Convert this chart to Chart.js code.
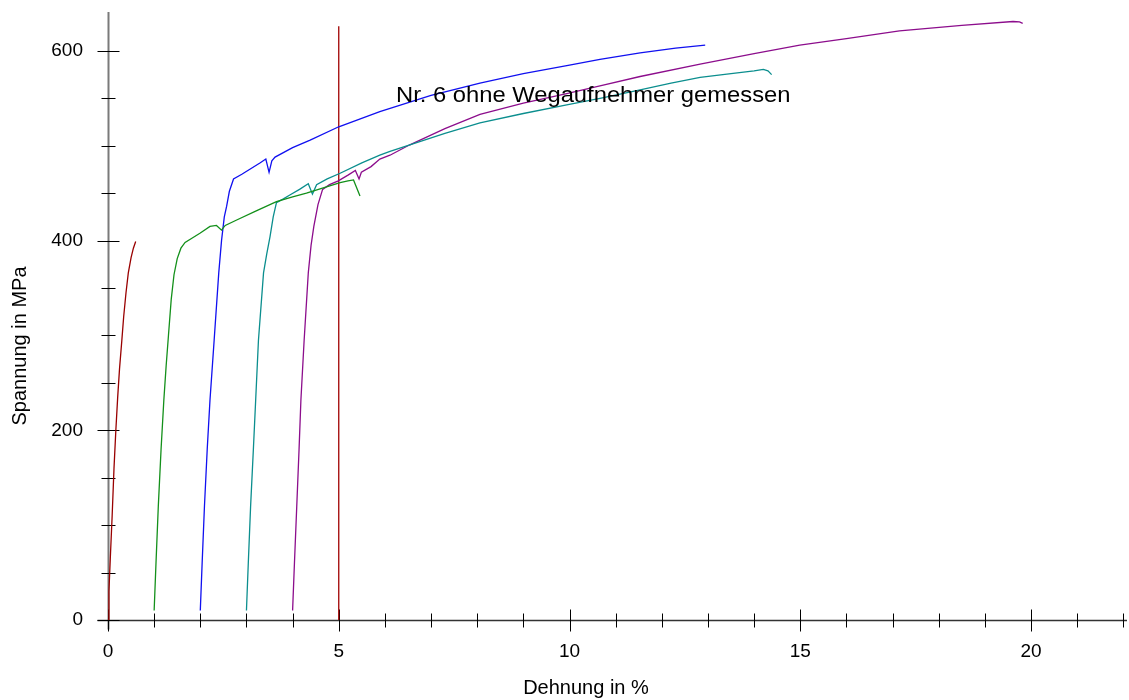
<!DOCTYPE html>
<html>
<head>
<meta charset="utf-8">
<script src="https://cdn.jsdelivr.net/npm/chart.js@4/dist/chart.umd.min.js"></script>
<style>
  body { margin: 0; background: #fff; }
</style>
</head>
<body>
<canvas id="stressChart" width="1129" height="700"></canvas>
<script>
// Axis ranges and tick labels
const xMin = 0, xMax = 22.08;
const yMin = 0, yMax = 641;
const xTickLabels = [0, 5, 10, 15, 20];
const yTickLabels = [0, 200, 400, 600];
const xMinorStep = 1;
const yMinorStep = 50;

// Specimen curves: Dehnung in %, Spannung in MPa
const darkRedStrain = [0, 0.02, 0.05, 0.09, 0.13, 0.17, 0.21, 0.25, 0.3, 0.34, 0.39, 0.44, 0.5, 0.55, 0.6];
const darkRedStress = [0, 30, 65, 110, 160, 200, 235, 265, 295, 320, 345, 366, 382, 392, 399];

const greenStrain = [1.0, 1.04, 1.09, 1.15, 1.21, 1.26, 1.31, 1.37, 1.43, 1.5, 1.58, 1.67, 1.8, 2.0, 2.21, 2.35, 2.46, 2.54, 2.8, 3.2, 3.65, 4.0, 4.3, 4.7, 5.03, 5.2, 5.32, 5.46];
const greenStress = [10, 60, 120, 180, 232, 268, 300, 338, 364, 381, 392, 398, 402, 408, 415, 416, 411, 416, 422, 431, 441, 446, 450, 456, 461, 463, 464, 447];

const blueStrain = [2.0, 2.04, 2.09, 2.15, 2.21, 2.3, 2.4, 2.46, 2.52, 2.57, 2.63, 2.72, 2.9, 3.1, 3.3, 3.42, 3.49, 3.55, 3.62, 4.0, 4.38, 5.0, 5.89, 7.0, 8.06, 9.0, 10.0, 10.66, 11.53, 12.3, 12.94];
const blueStress = [10, 60, 120, 180, 232, 295, 366, 400, 425, 436, 452, 465, 470, 476, 482, 486, 472, 484, 488, 498, 506, 520, 536, 553, 566, 576, 585, 591, 598, 603, 606];

const tealStrain = [3.0, 3.04, 3.09, 3.15, 3.2, 3.26, 3.37, 3.44, 3.51, 3.58, 3.65, 3.8, 3.94, 4.15, 4.34, 4.43, 4.52, 4.75, 5.03, 5.5, 5.89, 6.11, 6.54, 7.3, 8.06, 9.0, 9.94, 10.66, 11.53, 12.2, 12.83, 13.5, 14.0, 14.2, 14.3, 14.38];
const tealStress = [10, 60, 120, 180, 232, 295, 366, 386, 404, 425, 440, 444, 448, 454, 460, 449, 459, 465, 471, 482, 490, 494, 501, 513, 524, 534, 543, 550, 559, 566, 572, 576, 579, 580.5, 579, 575];

const purpleStrain = [4.0, 4.04, 4.09, 4.14, 4.18, 4.25, 4.34, 4.4, 4.46, 4.55, 4.65, 4.8, 4.99, 5.2, 5.36, 5.44, 5.49, 5.7, 5.89, 6.11, 6.54, 7.3, 8.06, 9.0, 9.94, 10.66, 11.53, 12.83, 14.0, 14.99, 16.0, 17.15, 18.5, 19.61, 19.75, 19.82];
const purpleStress = [10, 60, 120, 180, 232, 295, 366, 395, 415, 438, 454, 459, 463, 469, 474, 465, 472, 478, 486, 490, 501, 518, 533, 545, 555, 563, 573, 586, 597, 606, 613, 621, 627, 631, 630.5, 629];

// Vertical marker at 5 %
const markerStrain = [5, 5];
const markerStress = [0, 626];

// Annotation
const noteText = 'Nr. 6 ohne Wegaufnehmer gemessen';
const noteStrain = 6.24;
const noteStress = 546;

const xTitle = 'Dehnung in %';
const yTitle = 'Spannung in MPa';

const FONT = '"Liberation Sans", Arial, sans-serif';

function toPoints(xs, ys) {
    return xs.map((x, i) => ({ x: x, y: ys[i] }));
}

function lineDataset(xs, ys, color, width) {
    return {
        data: toPoints(xs, ys),
        borderColor: color,
        borderWidth: width || 1.3,
        pointRadius: 0,
        showLine: true,
        tension: 0,
        fill: false
    };
}

function isLabel(list, v) {
    return list.some(t => Math.abs(t - v) < 1e-6);
}

// Drop the extra room Chart.js keeps for overhanging tick labels
function fixScaleBox(s, size) {
    if (s.isHorizontal()) {
        s.height = size;
    } else {
        s.width = size;
    }
    s.paddingTop = 0;
    s.paddingBottom = 0;
    s.paddingLeft = 0;
    s.paddingRight = 0;
}

// Axis lines with crossing tick marks, drawn under the curves
const crossAxesPlugin = {
    id: 'crossAxes',
    beforeDatasetsDraw(chart) {
        const { ctx, scales: { x, y } } = chart;
        const x0 = Math.round(x.getPixelForValue(xMin)) + 0.5;
        const y0 = Math.round(y.getPixelForValue(yMin)) + 0.5;
        ctx.save();

        // y axis (grey)
        ctx.strokeStyle = '#7a7a7a';
        ctx.lineWidth = 2;
        ctx.beginPath();
        ctx.moveTo(x0, y.top);
        ctx.lineTo(x0, y0 + 9);
        ctx.stroke();

        // x axis
        ctx.strokeStyle = '#333';
        ctx.lineWidth = 1.5;
        ctx.beginPath();
        ctx.moveTo(x0 - 11, y0);
        ctx.lineTo(x.right, y0);
        ctx.stroke();

        ctx.strokeStyle = '#000';
        ctx.lineWidth = 1;

        // x ticks
        const nx = Math.floor((xMax - xMin) / xMinorStep + 1e-6);
        for (let i = 0; i <= nx; i++) {
            const v = xMin + i * xMinorStep;
            const px = Math.round(x.getPixelForValue(v)) + 0.5;
            const len = isLabel(xTickLabels, v) ? 11 : 7;
            ctx.beginPath();
            ctx.moveTo(px, y0 - len);
            ctx.lineTo(px, y0 + len);
            ctx.stroke();
        }

        // y ticks
        const ny = Math.floor((yMax - yMin) / yMinorStep + 1e-6);
        for (let i = 0; i <= ny; i++) {
            const v = yMin + i * yMinorStep;
            const py = Math.round(y.getPixelForValue(v)) + 0.5;
            const len = isLabel(yTickLabels, v) ? 11 : 7;
            ctx.beginPath();
            ctx.moveTo(x0 - len, py);
            ctx.lineTo(x0 + len, py);
            ctx.stroke();
        }
        ctx.restore();
    },
    afterDatasetsDraw(chart) {
        const { ctx, scales: { x, y } } = chart;
        ctx.save();
        ctx.fillStyle = '#000';

        // annotation, slightly stretched like the original
        ctx.font = '22px ' + FONT;
        ctx.textAlign = 'left';
        ctx.textBaseline = 'alphabetic';
        ctx.translate(x.getPixelForValue(noteStrain), y.getPixelForValue(noteStress));
        ctx.scale(1.08, 1);
        ctx.fillText(noteText, 0, 0);
        ctx.setTransform(1, 0, 0, 1, 0, 0);

        // axis titles
        ctx.font = '20px ' + FONT;
        ctx.textAlign = 'center';
        ctx.textBaseline = 'middle';
        ctx.fillText(xTitle, 586, 688);

        ctx.translate(20, 346);
        ctx.rotate(-Math.PI / 2);
        ctx.fillText(yTitle, 0, 0);
        ctx.restore();
    }
};

function initStressChart() {
    const canvas = document.getElementById('stressChart');

    return new Chart(canvas, {
        type: 'scatter',
        data: {
            datasets: [
                lineDataset(darkRedStrain, darkRedStress, '#990000'),
                lineDataset(greenStrain, greenStress, '#13901a'),
                lineDataset(blueStrain, blueStress, '#1010f0'),
                lineDataset(tealStrain, tealStress, '#0b8e8e'),
                lineDataset(purpleStrain, purpleStress, '#8c0d8c'),
                lineDataset(markerStrain, markerStress, '#a00000', 1.3)
            ]
        },
        options: {
            responsive: false,
            animation: false,
            devicePixelRatio: 1,
            layout: {
                padding: { top: 12, right: 2, left: 0, bottom: 0 }
            },
            plugins: {
                legend: { display: false },
                tooltip: { enabled: false },
                title: { display: false }
            },
            scales: {
                x: {
                    type: 'linear',
                    min: xMin,
                    max: xMax,
                    grid: { display: false, drawTicks: false },
                    border: { display: false },
                    afterFit: (s) => fixScaleBox(s, 80),
                    ticks: {
                        stepSize: xMinorStep,
                        includeBounds: false,
                        autoSkip: false,
                        maxRotation: 0,
                        padding: 20,
                        color: '#000',
                        font: { family: FONT, size: 19 },
                        callback: (v) => isLabel(xTickLabels, v) ? String(v) : ''
                    }
                },
                y: {
                    type: 'linear',
                    min: yMin,
                    max: yMax,
                    grid: { display: false, drawTicks: false },
                    border: { display: false },
                    afterFit: (s) => fixScaleBox(s, 108),
                    ticks: {
                        stepSize: yMinorStep,
                        includeBounds: false,
                        autoSkip: false,
                        padding: 25,
                        color: '#000',
                        font: { family: FONT, size: 19 },
                        callback: (v) => isLabel(yTickLabels, v) ? String(v) : ''
                    }
                }
            }
        },
        plugins: [crossAxesPlugin]
    });
}

initStressChart();
</script>
</body>
</html>
